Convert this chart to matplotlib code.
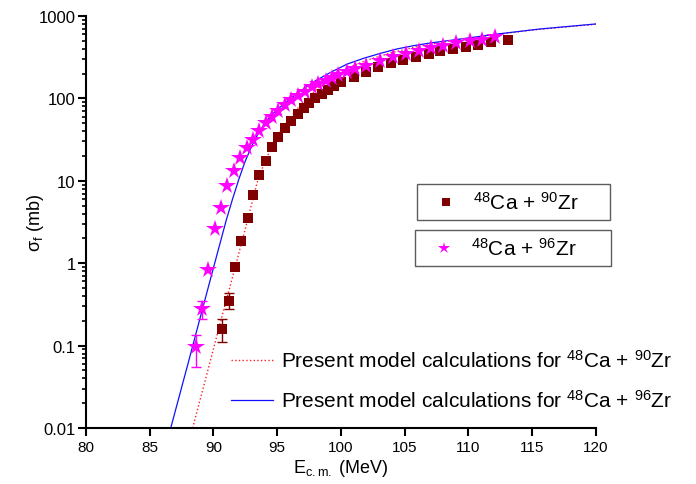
import numpy as np
import matplotlib
matplotlib.use("Agg")
import matplotlib.pyplot as plt
from matplotlib.ticker import FixedLocator, FixedFormatter, NullFormatter, LogLocator

plt.rcParams['font.family'] = ['Liberation Sans', 'DejaVu Sans']
plt.rcParams['mathtext.fontset'] = 'custom'
plt.rcParams['mathtext.rm'] = 'Liberation Sans'
plt.rcParams['mathtext.it'] = 'Liberation Sans:italic'
plt.rcParams['mathtext.bf'] = 'Liberation Sans:bold'

# measured fusion cross sections, 48Ca + 90Zr (squares)
e_zr90 = [90.7, 91.2, 91.7, 92.2, 92.7, 93.1, 93.6, 94.1, 94.6, 95.1, 95.6,
          96.1, 96.6, 97.1, 97.5, 98.0, 98.5, 99.0, 99.5, 100.0, 101.0, 102.0,
          102.9, 103.9, 104.9, 105.9, 106.9, 107.8, 108.8, 109.8, 110.8,
          111.8, 113.1]
sig_zr90 = [0.16, 0.35, 0.89, 1.87, 3.5, 6.8, 11.9, 17.5, 25.5, 33.7, 43.4,
            53.7, 64.7, 76.5, 87.9, 100, 113, 128, 140, 157, 183, 211,
            238, 267, 292, 321, 346, 373, 398, 425, 449, 479, 515]

# measured fusion cross sections, 48Ca + 96Zr (stars)
e_zr96 = [88.6, 89.1, 89.6, 90.1, 90.6, 91.1, 91.6, 92.1, 92.6, 93.1, 93.6,
          94.1, 94.6, 95.1, 95.6, 96.1, 96.6, 97.2, 97.7, 98.2, 98.8, 99.3,
          99.8, 100.5, 101.1, 102.0, 103.1, 104.1, 105.1, 106.1, 107.1,
          108.0, 109.0, 110.1, 111.1, 112.1]
sig_zr96 = [0.095, 0.28, 0.83, 2.6, 4.7, 8.7, 13.3, 18.7, 25, 31, 40.5,
            49.9, 59, 71, 83, 96, 108, 121, 136, 150, 164, 177,
            192, 211, 227, 250, 283, 315, 346, 373, 405, 436,
            467, 493, 515, 551]

# error bars visible on the lowest points (lower / upper limits)
e_err90 = [90.7, 91.2]
lo_err90 = [0.11, 0.28]
hi_err90 = [0.21, 0.44]
e_err96 = [88.6, 89.1]
lo_err96 = [0.055, 0.21]
hi_err96 = [0.135, 0.35]

# model curves
e_mod90 = [88.37, 89.5, 90.5, 91.5, 92.5, 93.5, 94.1, 94.6, 95.1, 95.6,
           96.1, 97.0, 98.0, 99.0, 100.0, 101.0, 102.0, 104.0, 106.0,
           108.0, 110.0, 112.0, 115.0, 120.0]
sig_mod90 = [0.01, 0.046, 0.18, 0.68, 2.6, 10.5, 18, 26, 36, 48,
             60, 90, 125, 165, 210, 250, 290, 360, 425,
             480, 535, 590, 675, 795]
e_mod96 = [86.65, 88.0, 89.0, 90.1, 91.0, 91.5, 92.0, 92.5, 93.0, 93.5,
           94.0, 94.5, 95.2, 96.5, 97.8, 99.2, 100.5, 101.8, 103.1, 104.4,
           105.7, 107.0, 109.4, 112.5, 115.6, 120.0]
sig_mod96 = [0.01, 0.06, 0.23, 1.0, 3.3, 6.0, 10.5, 17.4, 26.3, 37.2,
             49, 61.7, 77.6, 113, 157, 207, 261, 307, 352, 398,
             436, 470, 526, 610, 695, 800]

ytick_vals = [0.01, 0.1, 1, 10, 100, 1000]
ytick_labels = ['0.01', '0.1', '1', '10', '100', '1000']
xtick_vals = [80, 85, 90, 95, 100, 105, 110, 115, 120]

maroon = '#800000'
magenta = '#ff00ff'

fig = plt.figure(figsize=(6.96, 4.85), dpi=100)
ax = fig.add_axes([86 / 696, 1 - 429 / 485, (595.7 - 86) / 696, (429 - 17) / 485])

ax.plot(e_mod90, sig_mod90, color='#ff2020', linestyle=':', linewidth=1.0, zorder=2)
ax.plot(e_mod96, sig_mod96, color='#1010ff', linestyle='-', linewidth=0.9, zorder=2)

mid90 = np.sqrt(np.array(lo_err90) * np.array(hi_err90))
ax.errorbar(e_err90, mid90, yerr=[mid90 - np.array(lo_err90), np.array(hi_err90) - mid90],
            fmt='none', ecolor=maroon, elinewidth=1, capsize=3.5, zorder=3)
mid96 = np.sqrt(np.array(lo_err96) * np.array(hi_err96))
ax.errorbar(e_err96, mid96, yerr=[mid96 - np.array(lo_err96), np.array(hi_err96) - mid96],
            fmt='none', ecolor=magenta, elinewidth=1, capsize=3.5, zorder=3)

ax.plot(e_zr90, sig_zr90, linestyle='none', marker='s', markersize=7.6,
        color=maroon, markeredgewidth=0, zorder=4)
ax.plot(e_zr96, sig_zr96, linestyle='none', marker='*', markersize=13,
        color=magenta, markeredgewidth=0, zorder=5)

ax.set_yscale('log')
ax.set_xlim(80, 120)
ax.set_ylim(0.01, 1000)
ax.xaxis.set_major_locator(FixedLocator(xtick_vals))
ax.yaxis.set_major_locator(FixedLocator(ytick_vals))
ax.yaxis.set_major_formatter(FixedFormatter(ytick_labels))
ax.yaxis.set_minor_locator(LogLocator(base=10, subs=np.arange(2, 10)))
ax.yaxis.set_minor_formatter(NullFormatter())

for side in ['top', 'right']:
    ax.spines[side].set_visible(False)
for side in ['left', 'bottom']:
    ax.spines[side].set_linewidth(1.5)
ax.tick_params(axis='x', which='major', direction='out', length=6, width=1.5,
               labelsize=11, pad=3)
ax.tick_params(axis='y', which='major', direction='out', length=6, width=1.5,
               labelsize=12, pad=1.5)
ax.tick_params(axis='y', which='minor', direction='out', length=3, width=1.2)

ax.set_xlabel(r'E$_{\rm c.m.}$ (MeV)', fontsize=13, labelpad=2)
ax.set_ylabel(r'σ$_{\rm f}$ (mb)', fontsize=13)
ax.yaxis.set_label_coords(-0.078, 0.5)

# two framed legends for the data sets
h90, = ax.plot([], [], linestyle='none', marker='s', markersize=6, color=maroon,
               markeredgewidth=0)
h96, = ax.plot([], [], linestyle='none', marker='*', markersize=9, color=magenta,
               markeredgewidth=0)
leg_kw = dict(loc='upper left', mode='expand', fontsize=15, frameon=True, fancybox=False,
              edgecolor='#333333', borderpad=0.35, handlelength=2.1, handletextpad=0.25,
              bbox_transform=fig.transFigure, borderaxespad=0)
leg1 = ax.legend([h90], [r'$^{48}$Ca + $^{90}$Zr'],
                 bbox_to_anchor=(416.7 / 696, 0.3, 193 / 696, 1 - 185 / 485 - 0.3), **leg_kw)
leg1.get_frame().set_linewidth(1.0)
ax.add_artist(leg1)
leg2 = ax.legend([h96], [r'$^{48}$Ca + $^{96}$Zr'],
                 bbox_to_anchor=(415 / 696, 0.3, 195.7 / 696, 1 - 231 / 485 - 0.3), **leg_kw)
leg2.get_frame().set_linewidth(1.0)
ax.add_artist(leg2)

# legend for model curves
m90, = ax.plot([], [], color='#ff2020', linestyle=':', linewidth=1.0)
m96, = ax.plot([], [], color='#1010ff', linestyle='-', linewidth=0.9)
ax.legend([m90, m96],
          [r'Present model calculations for $^{48}$Ca + $^{90}$Zr',
           r'Present model calculations for $^{48}$Ca + $^{96}$Zr'],
          loc='upper left', bbox_to_anchor=(231 / 696, 1 - 350 / 485),
          bbox_transform=fig.transFigure, frameon=False, fontsize=15,
          borderpad=0, borderaxespad=0, handlelength=2.0, handletextpad=0.4,
          labelspacing=0.87)

fig.savefig('out.png', dpi=100)
